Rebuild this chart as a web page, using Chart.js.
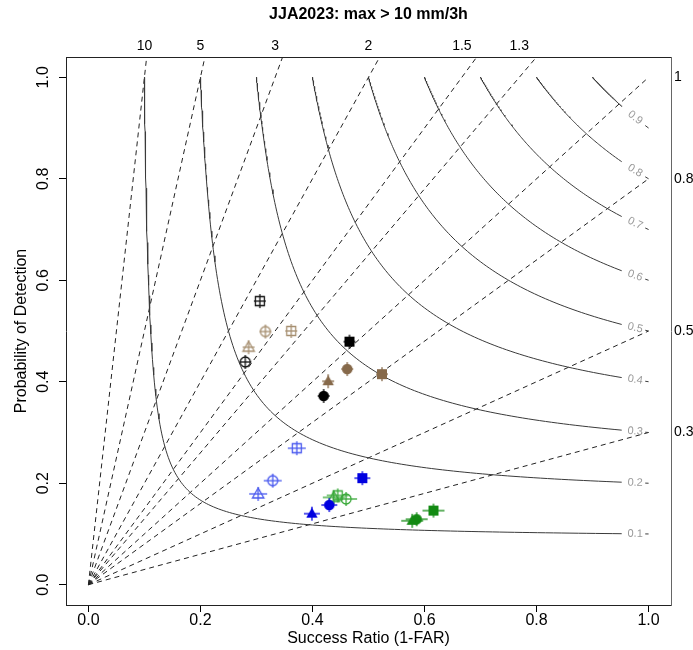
<!DOCTYPE html>
<html><head><meta charset="utf-8">
<script src="https://cdn.jsdelivr.net/npm/chart.js@4/dist/chart.umd.min.js"></script>
<style>html,body{margin:0;padding:0;background:#fff}canvas{display:block}</style>
</head><body>
<canvas id="c" width="693" height="650"></canvas>
<script>
const chartTitle = 'JJA2023: max > 10 mm/3h';
const xTitle = 'Success Ratio (1-FAR)';
const yTitle = 'Probability of Detection';
const xTicks = [0, 0.2, 0.4, 0.6, 0.8, 1.0];
const yTicks = [0, 0.2, 0.4, 0.6, 0.8, 1.0];
const biasValues = [0.3, 0.5, 0.8, 1, 1.3, 1.5, 2, 3, 5, 10];
const biasTopLabels = [10, 5, 3, 2, 1.5, 1.3];
const biasRightLabels = [1, 0.8, 0.5, 0.3];
const csiLevels = [0.1, 0.2, 0.3, 0.4, 0.5, 0.6, 0.7, 0.8, 0.9];

// series (success ratio, probability of detection, marker shape)
const blackOpenSR = [0.306, 0.280];
const blackOpenPOD = [0.559, 0.439];
const blackOpenShape = ['square', 'circle'];
const blackFillSR = [0.466, 0.420];
const blackFillPOD = [0.479, 0.372];
const blackFillShape = ['square', 'circle'];
const tanOpenSR = [0.362, 0.316, 0.286];
const tanOpenPOD = [0.500, 0.499, 0.468];
const tanOpenShape = ['square', 'circle', 'triangle'];
const brownFillSR = [0.524, 0.462, 0.428];
const brownFillPOD = [0.415, 0.425, 0.401];
const brownFillShape = ['square', 'circle', 'triangle'];
const lblueOpenSR = [0.372, 0.329, 0.303];
const lblueOpenPOD = [0.269, 0.205, 0.179];
const lblueOpenShape = ['square', 'circle', 'triangle'];
const blueFillSR = [0.489, 0.430, 0.399];
const blueFillPOD = [0.210, 0.157, 0.140];
const blueFillShape = ['square', 'circle', 'triangle'];
const lgreenOpenSR = [0.445, 0.460, 0.438];
const lgreenOpenPOD = [0.176, 0.169, 0.172];
const lgreenOpenShape = ['square', 'circle', 'triangle'];
const greenFillSR = [0.616, 0.586, 0.578];
const greenFillPOD = [0.146, 0.129, 0.126];
const greenFillShape = ['square', 'circle', 'triangle'];

const FONT = '"Liberation Sans", Arial, Helvetica, sans-serif';
Chart.defaults.font.family = FONT;

const AX_MIN = -0.04, AX_MAX = 1.04;

function csiPod(c, s) { return 1 / (1 / c + 1 - 1 / s); }

function makeMarker(shape, filled, color, hw) {
  const w = 2 * hw + 4, h = 20;
  const cv = document.createElement('canvas');
  cv.width = w; cv.height = h;
  const g = cv.getContext('2d');
  const cx = w / 2, cy = h / 2;
  g.strokeStyle = color; g.fillStyle = color; g.lineWidth = 1.3;
  g.beginPath(); g.moveTo(cx - hw, cy); g.lineTo(cx + hw, cy); g.stroke();
  g.beginPath(); g.moveTo(cx, cy - 7); g.lineTo(cx, cy + 7); g.stroke();
  g.beginPath();
  if (shape === 'square') {
    if (filled) g.rect(cx - 5, cy - 5, 10, 10); else g.rect(cx - 4.5, cy - 4.5, 9, 9);
  } else if (shape === 'circle') {
    g.arc(cx, cy, filled ? 5.3 : 5, 0, 2 * Math.PI);
  } else {
    g.moveTo(cx, cy - 6); g.lineTo(cx + 5.7, cy + 4); g.lineTo(cx - 5.7, cy + 4); g.closePath();
  }
  if (filled) g.fill(); else g.stroke();
  return cv;
}

function pointSet(label, srs, pods, shapes, filled, color, hw) {
  return {
    label, type: 'scatter', order: 1,
    data: srs.map((s, i) => ({ x: s, y: pods[i] })),
    pointStyle: shapes.map(sh => makeMarker(sh, filled, color, hw)),
    pointRadius: 6, showLine: false
  };
}

const datasets = [];
// bias lines
biasValues.forEach(b => {
  const xe = Math.min(1, AX_MAX / b);
  datasets.push({
    label: 'bias ' + b, type: 'scatter', order: 3, showLine: true,
    data: [{ x: 0, y: 0 }, { x: xe, y: b * xe }],
    borderColor: '#222', borderWidth: 1, borderDash: [5, 4], pointRadius: 0, fill: false
  });
});
// CSI curves
csiLevels.forEach(c => {
  const pts = [];
  const n = 160, sEnd = 0.952;
  for (let i = 0; i <= n; i++) {
    const u = i / n;
    const s = c + (sEnd - c) * u * u * u;
    pts.push({ x: s, y: csiPod(c, s) });
  }
  pts.push({ x: 0.97, y: null });
  pts.push({ x: 0.994, y: csiPod(c, 0.994) });
  pts.push({ x: 1.0, y: csiPod(c, 1.0) });
  datasets.push({
    label: 'CSI ' + c, type: 'scatter', order: 2, showLine: true, spanGaps: false,
    data: pts, borderColor: '#3a3a3a', borderWidth: 1, pointRadius: 0, fill: false
  });
});
datasets.push(pointSet('black open', blackOpenSR, blackOpenPOD, blackOpenShape, false, '#111111', 6));
datasets.push(pointSet('black filled', blackFillSR, blackFillPOD, blackFillShape, true, '#000000', 6));
datasets.push(pointSet('tan open', tanOpenSR, tanOpenPOD, tanOpenShape, false, '#a68f70', 6));
datasets.push(pointSet('brown filled', brownFillSR, brownFillPOD, brownFillShape, true, '#86694a', 6));
datasets.push(pointSet('light blue open', lblueOpenSR, lblueOpenPOD, lblueOpenShape, false, '#4858ee', 9));
datasets.push(pointSet('blue filled', blueFillSR, blueFillPOD, blueFillShape, true, '#0000e0', 8));
datasets.push(pointSet('light green open', lgreenOpenSR, lgreenOpenPOD, lgreenOpenShape, false, '#38a838', 11));
datasets.push(pointSet('green filled', greenFillSR, greenFillPOD, greenFillShape, true, '#128a12', 11));

const overlay = {
  id: 'overlay',
  afterDraw(chart) {
    const { ctx, scales: { x, y }, chartArea } = chart;
    ctx.save();
    ctx.fillStyle = '#000';
    ctx.font = '16px ' + FONT;
    ctx.textAlign = 'center'; ctx.textBaseline = 'middle';
    yTicks.forEach(v => {
      ctx.save();
      ctx.translate(chartArea.left - 22, y.getPixelForValue(v));
      ctx.rotate(-Math.PI / 2);
      ctx.fillText(v.toFixed(1), 0, 0);
      ctx.restore();
    });
    ctx.fillStyle = '#9a9a9a';
    ctx.font = '11px ' + FONT;
    csiLevels.forEach(c => {
      const s = 0.976;
      const px = x.getPixelForValue(s), py = y.getPixelForValue(csiPod(c, s));
      const px2 = x.getPixelForValue(s + 0.01), py2 = y.getPixelForValue(csiPod(c, s + 0.01));
      const ang = Math.atan2(py2 - py, px2 - px);
      ctx.save();
      ctx.translate(px, py);
      ctx.rotate(ang);
      ctx.fillText(String(c), 0, 0);
      ctx.restore();
    });
    ctx.restore();
  }
};

new Chart(document.getElementById('c'), {
  type: 'scatter',
  data: { datasets },
  options: {
    responsive: false, animation: false, devicePixelRatio: 1,
    layout: { padding: 0 },
    plugins: {
      legend: { display: false }, tooltip: { enabled: false },
      title: { display: true, text: chartTitle, fullSize: false, color: '#000',
        font: { size: 16, weight: 'bold', lineHeight: 1 }, padding: { top: 7, bottom: 7 } }
    },
    scales: {
      x: {
        type: 'linear', position: 'bottom', min: AX_MIN, max: AX_MAX,
        afterBuildTicks: s => { s.ticks = xTicks.map(v => ({ value: v })); },
        afterFit: s => { s.height = 45; },
        ticks: { font: { size: 16, lineHeight: 1 }, color: '#000', padding: 1, autoSkip: false, maxRotation: 0,
          callback: v => Number(v).toFixed(1) },
        grid: { display: true, drawOnChartArea: false, drawTicks: true, tickLength: 7, color: '#000', tickColor: '#000' },
        border: { display: true, color: '#222', width: 1 },
        title: { display: true, text: xTitle, color: '#000', font: { size: 16, lineHeight: 1.2 }, padding: { top: 0, bottom: 2 } }
      },
      y: {
        type: 'linear', position: 'left', min: AX_MIN, max: AX_MAX,
        afterBuildTicks: s => { s.ticks = yTicks.map(v => ({ value: v })); },
        afterFit: s => { s.width = 66; },
        ticks: { display: false },
        grid: { display: true, drawOnChartArea: false, drawTicks: true, tickLength: 7, color: '#000', tickColor: '#000' },
        border: { display: true, color: '#222', width: 1 },
        title: { display: true, text: yTitle, color: '#000', font: { size: 16, lineHeight: 1.2 }, padding: { top: 12, bottom: 0 } }
      },
      x2: {
        type: 'linear', position: 'top', min: AX_MIN, max: AX_MAX,
        afterBuildTicks: s => { s.ticks = biasTopLabels.map(b => ({ value: 1 / b })); },
        afterFit: s => { s.height = 27; },
        ticks: { font: { size: 14, lineHeight: 1 }, color: '#000', padding: 4, autoSkip: false, maxRotation: 0,
          callback: (v, i) => String(biasTopLabels[i]) },
        grid: { display: false, drawTicks: false },
        border: { display: true, color: '#222', width: 1 }
      },
      y2: {
        type: 'linear', position: 'right', min: AX_MIN, max: AX_MAX,
        afterBuildTicks: s => { s.ticks = biasRightLabels.map(b => ({ value: b })); },
        afterFit: s => { s.width = 22; },
        ticks: { font: { size: 14, lineHeight: 1 }, color: '#000', padding: 3, autoSkip: false,
          callback: (v, i) => String(biasRightLabels[i]) },
        grid: { display: false, drawTicks: false },
        border: { display: true, color: '#666', width: 1 }
      }
    }
  },
  plugins: [overlay]
});
</script>
</body></html>
